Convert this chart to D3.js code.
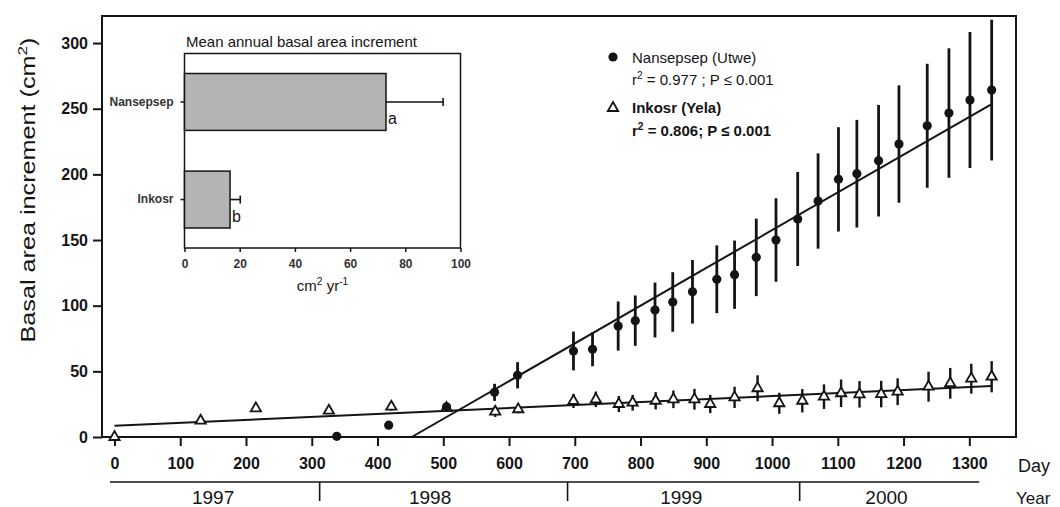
<!DOCTYPE html>
<html>
<head>
<meta charset="utf-8">
<script src="https://cdn.jsdelivr.net/npm/d3@7"></script>
<style>
  body { margin: 0; background: #fff; }
  svg { display: block; font-family: "Liberation Sans", Arial, sans-serif; }
</style>
</head>
<body>
<svg id="chart" width="1060" height="507"></svg>
<script>
// Nansepsep (Utwe): day, mean basal area increment, error (cm2)
const nanDay = [338, 417, 505, 578, 613, 698, 727, 766, 792, 822, 849, 879, 916, 943, 976, 1006, 1039, 1070, 1101, 1129, 1162, 1193, 1236, 1269, 1301, 1334];
const nanMean = [0.5, 9, 23, 34, 47, 65.5, 66.8, 84.5, 88.6, 96.7, 102.8, 110.6, 120.1, 123.6, 136.8, 150, 166, 179.7, 196.2, 200.5, 210.4, 223.1, 237, 246.7, 256.6, 264.2];
const nanErr = [0, 0, 3, 6.5, 10, 14.8, 12.9, 18.7, 19.2, 20.9, 22.7, 24.2, 25.8, 26, 29.5, 31.8, 35.8, 36.3, 39.7, 41, 42.5, 44.7, 47.2, 49.3, 51.8, 53.6];

// Inkosr (Yela)
const inkDay = [0, 131, 215, 326, 421, 505, 579, 614, 698, 732, 767, 788, 823, 850, 882, 906, 943, 978, 1011, 1046, 1079, 1105, 1133, 1166, 1191, 1238, 1271, 1303, 1334];
const inkMean = [0, 12.4, 21.8, 20, 23.1, 22, 19.3, 21.1, 27.4, 28.7, 25.1, 26.1, 27.6, 28.7, 28.7, 25.1, 30.2, 37.1, 25.7, 27.6, 30.7, 33.3, 32.5, 32.7, 34.5, 38.3, 40.9, 44.4, 45.9];
const inkErr = [0, 2, 2.5, 2, 3, 2, 4, 3, 5.3, 5.9, 6.1, 6, 6.6, 6.7, 7.9, 6.9, 8.1, 9.9, 8, 8.9, 9.4, 10.5, 10.1, 10.1, 10.2, 11.4, 11.7, 11.4, 11.9];

// regression lines (start / end points in data units)
const nanFit = [[452, 0], [1334, 253.5]];
const inkFit = [[0, 8.5], [1334, 38.8]];

const xTicks = [0, 100, 200, 300, 400, 500, 600, 700, 800, 900, 1000, 1100, 1200, 1300];
const yTicks = [0, 50, 100, 150, 200, 250, 300];

const years = ["1997", "1998", "1999", "2000"];
const yearLabelDay = [150, 480, 862, 1174];
const yearBreaks = [312, 689, 1042];
const yearSpan = [-7, 1315];

// inset: mean annual basal area increment
const insetCats = ["Nansepsep", "Inkosr"];
const insetMeans = [73, 16.5];
const insetErrs = [20.7, 3.7];
const insetLetters = ["a", "b"];
const insetTicks = [0, 20, 40, 60, 80, 100];

const ink = "#141414";
const svg = d3.select("#chart");

const x = d3.scaleLinear().domain([-19, 1371]).range([102, 1016]);
const y = d3.scaleLinear().domain([0, 320.6]).range([437, 16]);

const nan = nanDay.map((d, i) => ({ day: d, mean: nanMean[i], err: nanErr[i] }));
const ink2 = inkDay.map((d, i) => ({ day: d, mean: inkMean[i], err: inkErr[i] }));

// write text with superscript parts: parts = [[text, sup?], ...]
function richText(sel, parts, size) {
  parts.forEach(([t, sup], i) => {
    const prevSup = i > 0 && parts[i - 1][1];
    const ts = sel.append("tspan").text(t);
    if (sup) ts.attr("font-size", size * 0.68).attr("dy", -size * 0.42);
    else if (prevSup) ts.attr("dy", size * 0.42);
  });
  return sel;
}

// ---- main frame
svg.append("rect")
  .attr("x", 102).attr("y", 16)
  .attr("width", 1016 - 102).attr("height", 437 - 16)
  .attr("fill", "none").attr("stroke", ink).attr("stroke-width", 2);

// axes
const xAxis = svg.append("g")
  .attr("transform", "translate(0,437)")
  .call(d3.axisBottom(x).tickValues(xTicks).tickFormat(d3.format("d")).tickSize(9).tickPadding(12));
const yAxis = svg.append("g")
  .attr("transform", "translate(102,0)")
  .call(d3.axisLeft(y).tickValues(yTicks).tickSize(9).tickPadding(5));

[xAxis, yAxis].forEach((a) => {
  a.select(".domain").remove();
  a.selectAll(".tick line").attr("stroke", ink).attr("stroke-width", 2);
  a.selectAll(".tick text")
    .attr("fill", ink)
    .style("font-family", "'Liberation Sans', Arial, sans-serif")
    .style("font-size", "16px")
    .style("font-weight", "bold");
});

// y title
richText(
  svg.append("text")
    .attr("transform", "translate(35,190) rotate(-90)")
    .attr("text-anchor", "middle")
    .attr("font-size", 20)
    .attr("fill", ink)
    .attr("textLength", 305)
    .attr("lengthAdjust", "spacingAndGlyphs"),
  [["Basal area increment (cm", false], ["2", true], [")", false]],
  20
);

// day / year labels
svg.append("text").attr("x", 1018).attr("y", 472)
  .attr("font-size", 18).attr("fill", ink).text("Day");
svg.append("text").attr("x", 1016).attr("y", 504)
  .attr("font-size", 17).attr("fill", ink).text("Year");

// year axis
const yr = svg.append("g").attr("stroke", ink).attr("stroke-width", 1.6);
yr.append("line")
  .attr("x1", x(yearSpan[0])).attr("x2", x(yearSpan[1]))
  .attr("y1", 482).attr("y2", 482);
yr.selectAll(".brk").data(yearBreaks).join("line")
  .attr("class", "brk")
  .attr("x1", (d) => x(d)).attr("x2", (d) => x(d))
  .attr("y1", 482).attr("y2", 501);
svg.selectAll(".yearlab").data(years).join("text")
  .attr("class", "yearlab")
  .attr("x", (d, i) => x(yearLabelDay[i]))
  .attr("y", 504)
  .attr("text-anchor", "middle")
  .attr("font-size", 19)
  .attr("fill", ink)
  .text((d) => d);

// ---- regression lines
const line = d3.line().x((d) => x(d[0])).y((d) => y(d[1]));
svg.selectAll(".fit").data([nanFit, inkFit]).join("path")
  .attr("class", "fit")
  .attr("d", line)
  .attr("fill", "none")
  .attr("stroke", ink)
  .attr("stroke-width", 2);

// ---- error bars
svg.append("g").selectAll("line")
  .data(ink2.filter((d) => d.err > 0))
  .join("line")
  .attr("x1", (d) => x(d.day)).attr("x2", (d) => x(d.day))
  .attr("y1", (d) => y(d.mean - d.err)).attr("y2", (d) => y(d.mean + d.err))
  .attr("stroke", ink).attr("stroke-width", 2.4);

svg.append("g").selectAll("line")
  .data(nan.filter((d) => d.err > 0))
  .join("line")
  .attr("x1", (d) => x(d.day)).attr("x2", (d) => x(d.day))
  .attr("y1", (d) => y(d.mean - d.err)).attr("y2", (d) => y(d.mean + d.err))
  .attr("stroke", ink).attr("stroke-width", 2.8);

// ---- markers
const tri = d3.symbol().type(d3.symbolTriangle).size(46);
svg.append("g").selectAll("path")
  .data(ink2)
  .join("path")
  .attr("d", tri)
  .attr("transform", (d) => `translate(${x(d.day)},${y(d.mean)})`)
  .attr("fill", "#fff")
  .attr("stroke", ink)
  .attr("stroke-width", 1.8);

svg.append("g").selectAll("circle")
  .data(nan)
  .join("circle")
  .attr("cx", (d) => x(d.day))
  .attr("cy", (d) => y(d.mean))
  .attr("r", 4.6)
  .attr("fill", ink);

// ---- legend
const lg = svg.append("g").attr("fill", ink);
lg.append("circle").attr("cx", 613).attr("cy", 57).attr("r", 4.6);
lg.append("path").attr("d", tri)
  .attr("transform", "translate(613,108)")
  .attr("fill", "#fff").attr("stroke", ink).attr("stroke-width", 1.8);
lg.append("text").attr("x", 632).attr("y", 63).attr("font-size", 15)
  .text("Nansepsep (Utwe)");
richText(lg.append("text").attr("x", 632).attr("y", 85).attr("font-size", 15),
  [["r", false], ["2", true], [" = 0.977 ; P \u2264 0.001", false]], 15);
lg.append("text").attr("x", 632).attr("y", 113).attr("font-size", 15)
  .attr("font-weight", "bold").text("Inkosr (Yela)");
richText(lg.append("text").attr("x", 632).attr("y", 136).attr("font-size", 15)
  .attr("font-weight", "bold"),
  [["r", false], ["2", true], [" = 0.806; P \u2264 0.001", false]], 15);

// ---- inset bar chart
const ix = d3.scaleLinear().domain([0, 100]).range([184.5, 460.5]);
const iy = d3.scaleBand().domain(insetCats).range([53.5, 248])
  .paddingInner(0.417).paddingOuter(0.205);

const inset = svg.append("g");
inset.append("rect")
  .attr("x", 184.5).attr("y", 53.5)
  .attr("width", 460.5 - 184.5).attr("height", 248 - 53.5)
  .attr("fill", "#fff").attr("stroke", ink).attr("stroke-width", 1.5);

inset.append("text")
  .attr("x", 301.5).attr("y", 47)
  .attr("text-anchor", "middle")
  .attr("font-size", 15)
  .attr("fill", ink)
  .text("Mean annual basal area increment");

inset.selectAll(".bar").data(insetCats).join("rect")
  .attr("class", "bar")
  .attr("x", ix(0))
  .attr("y", (d) => iy(d))
  .attr("width", (d, i) => ix(insetMeans[i]) - ix(0))
  .attr("height", iy.bandwidth())
  .attr("fill", "#b4b4b4")
  .attr("stroke", ink)
  .attr("stroke-width", 1.5);

const eb = inset.selectAll(".ebar").data(insetCats).join("g")
  .attr("class", "ebar")
  .attr("stroke", ink).attr("stroke-width", 1.6);
eb.append("line")
  .attr("x1", (d, i) => ix(insetMeans[i]))
  .attr("x2", (d, i) => ix(insetMeans[i] + insetErrs[i]))
  .attr("y1", (d) => iy(d) + iy.bandwidth() / 2)
  .attr("y2", (d) => iy(d) + iy.bandwidth() / 2);
eb.append("line")
  .attr("x1", (d, i) => ix(insetMeans[i] + insetErrs[i]))
  .attr("x2", (d, i) => ix(insetMeans[i] + insetErrs[i]))
  .attr("y1", (d) => iy(d) + iy.bandwidth() / 2 - 4)
  .attr("y2", (d) => iy(d) + iy.bandwidth() / 2 + 4);

inset.selectAll(".letter").data(insetCats).join("text")
  .attr("class", "letter")
  .attr("x", (d, i) => ix(insetMeans[i]) + 2)
  .attr("y", (d) => iy(d) + iy.bandwidth() / 2 + 22)
  .attr("font-size", 16)
  .attr("fill", ink)
  .text((d, i) => insetLetters[i]);

const ixAxis = inset.append("g")
  .attr("transform", "translate(0,248)")
  .call(d3.axisBottom(ix).tickValues(insetTicks).tickSize(4).tickPadding(7));
const iyAxis = inset.append("g")
  .attr("transform", "translate(184.5,0)")
  .call(d3.axisLeft(iy).tickSize(4).tickPadding(7));
[ixAxis, iyAxis].forEach((a) => {
  a.select(".domain").remove();
  a.selectAll(".tick line").attr("stroke", ink).attr("stroke-width", 1.5);
  a.selectAll(".tick text")
    .attr("fill", "#333")
    .style("font-family", "'Liberation Sans', Arial, sans-serif")
    .style("font-size", "12px")
    .style("font-weight", "bold");
});

richText(
  inset.append("text")
    .attr("x", 322.5).attr("y", 291)
    .attr("text-anchor", "middle")
    .attr("font-size", 15)
    .attr("fill", ink),
  [["cm", false], ["2", true], [" yr", false], ["-1", true]],
  15
);
</script>
</body>
</html>
